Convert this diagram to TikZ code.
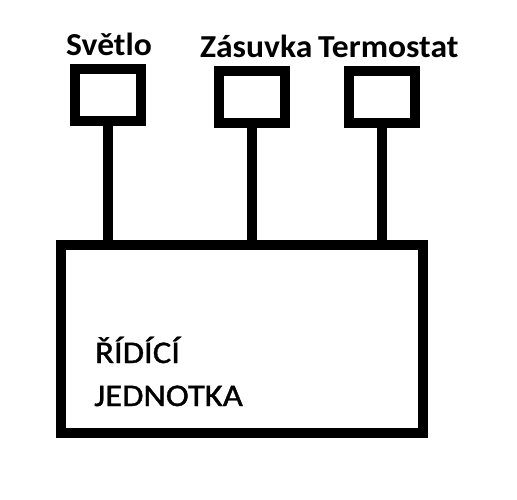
\documentclass[tikz,border=0pt]{standalone}
\usepackage{fontspec}
\setmainfont{Carlito}
\newfontfamily\lblfont[FakeStretch=1.05]{Carlito Bold}
\newfontfamily\boxfont[FakeStretch=1.1,FakeBold=1.2]{Carlito}
\begin{document}
\begin{tikzpicture}[x=1pt,y=-1pt,
  dev/.style={draw=black, line width=10pt, rectangle, inner sep=0pt, minimum width=66pt, minimum height=52pt},
  unit/.style={draw=black, line width=10pt, rectangle, inner sep=0pt, minimum width=362pt, minimum height=188pt},
  wire/.style={draw=black, line width=10pt},
  lbl/.style={font=\lblfont\fontsize{32}{33}\selectfont, inner sep=0pt, anchor=base west},
  txt/.style={font=\boxfont\fontsize{31.5}{33}\selectfont, inner sep=0pt, anchor=base west}]
\useasboundingbox (0,0) rectangle (517,499);
\node[unit] (main) at (242,339) {};
\node[dev] (s1) at (108,95) {};
\node[dev] (s2) at (252,97) {};
\node[dev] (s3) at (382,97) {};
\draw[wire] (s1.south) -- (s1.south |- main.north);
\draw[wire] (s2.south) -- (s2.south |- main.north);
\draw[wire] (s3.south) -- (s3.south |- main.north);
\node[lbl] (l1) at (66,55) {Světlo};
\node[lbl] (l2) at (200,57) {Zásuvka};
\node[lbl] (l3) at (318,57) {Termostat};
\node[txt] (t1) at (95,363) {ŘÍDÍCÍ};
\node[txt] (t2) at (94,406) {JEDNOTKA};
\end{tikzpicture}
\end{document}
